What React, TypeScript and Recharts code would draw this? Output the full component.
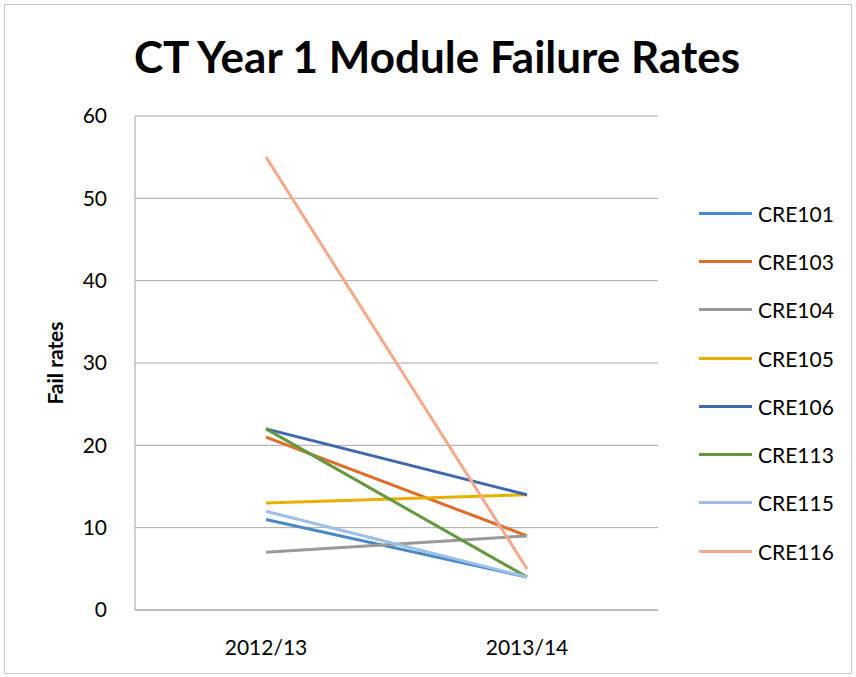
import { LineChart, Line, XAxis, YAxis, CartesianGrid, Legend } from "recharts";

const years = ["2012/13", "2013/14"];
const cre101 = [11, 4];
const cre103 = [21, 9];
const cre104 = [7, 9];
const cre105 = [13, 14];
const cre106 = [22, 14];
const cre113 = [22, 4];
const cre115 = [12, 4];
const cre116 = [55, 5];
const yTicks = [0, 10, 20, 30, 40, 50, 60];

const modules = [
  { key: "CRE101", values: cre101, color: "#4A89C8" },
  { key: "CRE103", values: cre103, color: "#DE6D2A" },
  { key: "CRE104", values: cre104, color: "#999999" },
  { key: "CRE105", values: cre105, color: "#E8AE00" },
  { key: "CRE106", values: cre106, color: "#4066B0" },
  { key: "CRE113", values: cre113, color: "#62993E" },
  { key: "CRE115", values: cre115, color: "#9DBFE6" },
  { key: "CRE116", values: cre116, color: "#F2A98C" },
];

const chartData = years.map((year, i) => {
  const row: Record<string, any> = { year };
  modules.forEach((m) => {
    row[m.key] = m.values[i];
  });
  return row;
});

const font = "Lato, 'Open Sans', sans-serif";

const LegendContent = () => (
  <div style={{ fontFamily: font, fontSize: 21, color: "#000" }}>
    {modules.map((m) => (
      <div key={m.key} style={{ display: "flex", alignItems: "center", height: 48.3 }}>
        <div style={{ width: 53, height: 3, background: m.color, marginRight: 6 }} />
        <span>{m.key}</span>
      </div>
    ))}
  </div>
);

// y axis title, drawn rotated at the left of the plot
const YLabel = ({ viewBox }: any) => {
  const x = viewBox.x - 12;
  const y = viewBox.y + viewBox.height / 2;
  return (
    <text
      x={x}
      y={y}
      transform={`rotate(-90, ${x}, ${y})`}
      textAnchor="middle"
      fontFamily={font}
      fontSize={21}
      fontWeight={700}
      fill="#000"
    >
      Fail rates
    </text>
  );
};

export default function App() {
  return (
    <div style={{ position: "absolute", left: 0, top: 0, width: 856, height: 677, background: "#fff" }}>
      <div
        style={{
          position: "absolute",
          left: 4,
          top: 4,
          width: 848,
          height: 670,
          border: "1px solid #c8c8c8",
          boxSizing: "border-box",
        }}
      />
      <div
        style={{
          position: "absolute",
          left: 0,
          top: 28,
          width: 874,
          textAlign: "center",
          fontFamily: font,
          fontWeight: 700,
          fontSize: 44,
          lineHeight: "56px",
          color: "#000",
        }}
      >
        CT Year 1 Module Failure Rates
      </div>
      <LineChart
        width={856}
        height={677}
        data={chartData}
        margin={{ top: 116, right: 48, left: 75, bottom: 27 }}
      >
        <CartesianGrid vertical={false} stroke="#a6a6a6" strokeWidth={1} />
        <XAxis
          dataKey="year"
          axisLine={{ stroke: "#a6a6a6" }}
          tickLine={false}
          height={40}
          padding={{ left: 131, right: 131 }}
          tick={{ fill: "#000", fontSize: 21, fontFamily: font }}
          tickMargin={24}
        />
        <YAxis
          domain={[0, 60]}
          ticks={yTicks}
          width={60}
          axisLine={{ stroke: "#a6a6a6" }}
          tickLine={false}
          tick={{ fill: "#000", fontSize: 21, fontFamily: font }}
          tickMargin={22}
          label={<YLabel />}
        />
        <Legend
          layout="vertical"
          align="right"
          verticalAlign="top"
          content={<LegendContent />}
          wrapperStyle={{ left: 699, top: 189, width: 150 }}
        />
        {modules.map((m) => (
          <Line
            key={m.key}
            dataKey={m.key}
            name={m.key}
            stroke={m.color}
            strokeWidth={3}
            dot={false}
            activeDot={false}
            type="linear"
            isAnimationActive={false}
          />
        ))}
      </LineChart>
    </div>
  );
}
